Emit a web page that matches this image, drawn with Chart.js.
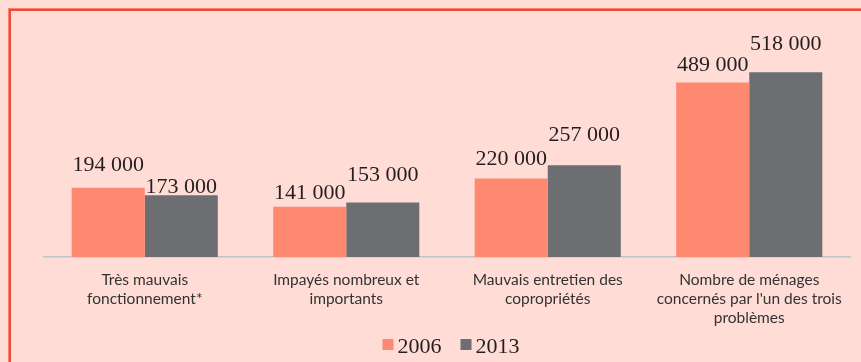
<!DOCTYPE html>
<html>
<head>
<meta charset="utf-8">
<script src="https://cdn.jsdelivr.net/npm/chart.js@4"></script>
<style>
  html, body { margin: 0; padding: 0; }
  body { width: 861px; height: 362px; background: #ffdcd6; position: relative; overflow: hidden; }
  #frame {
    position: absolute; left: 9px; top: 9px; right: -10px; bottom: -10px;
    border-top: 2px solid #f04a3a; border-left: 2px solid #f04a3a;
    box-shadow: -1px -1px 0 #f9806e;
  }
  #wrap { position: absolute; left: 0; top: 0; width: 861px; height: 362px; }
</style>
</head>
<body>
<div id="frame"></div>
<div id="wrap"><canvas id="chart" width="861" height="362"></canvas></div>
<script>
const categories = [
    ["Très mauvais", "fonctionnement*"],
    ["Impayés nombreux et", "importants"],
    ["Mauvais entretien des", "copropriétés"],
    ["Nombre de ménages", "concernés par l'un des trois", "problèmes"]
];
const years = ["2006", "2013"];
const values2006 = [194000, 141000, 220000, 489000];
const values2013 = [173000, 153000, 257000, 518000];

// space between label baseline and bar top, per bar
const labelGaps = [[17, 8, 14, 12], [2, 21, 24, 22]];

const serif = '"Liberation Serif", serif';

function fmt(v){
    return String(v).replace(/\B(?=(\d{3})+(?!\d))/g, " ");
}

const valueLabels = {
    id: 'valueLabels',
    afterDatasetsDraw(chart){
        const ctx = chart.ctx;
        ctx.save();
        ctx.font = '22px ' + serif;
        ctx.fillStyle = '#231f20';
        ctx.textAlign = 'center';
        ctx.textBaseline = 'alphabetic';
        chart.data.datasets.forEach((ds, di) => {
            chart.getDatasetMeta(di).data.forEach((bar, i) => {
                ctx.fillText(fmt(ds.data[i]), bar.x, bar.y - labelGaps[di][i]);
            });
        });
        ctx.restore();
    }
};

// legend row under the axis labels: small square + year
const bottomLegend = {
    id: 'bottomLegend',
    afterDraw(chart){
        const ctx = chart.ctx;
        const box = 11, gap = 4, spacing = 19;
        const center = 451, boxTop = 339, baseline = 353;
        ctx.save();
        ctx.font = '22px ' + serif;
        ctx.textBaseline = 'alphabetic';
        const sets = chart.data.datasets;
        const widths = sets.map(ds => ctx.measureText(ds.label).width);
        let total = 0;
        widths.forEach((w, i) => { total += box + gap + w + (i ? spacing : 0); });
        let x = center - total / 2;
        sets.forEach((ds, i) => {
            ctx.fillStyle = ds.backgroundColor;
            ctx.fillRect(x, boxTop, box, box);
            ctx.fillStyle = '#231f20';
            ctx.fillText(ds.label, x + box + gap, baseline);
            x += box + gap + widths[i] + spacing;
        });
        ctx.restore();
    }
};

new Chart(document.getElementById('chart').getContext('2d'), {
    type: 'bar',
    data: {
        labels: categories,
        datasets: [
            {label: years[0], data: values2006, backgroundColor: '#ff8870'},
            {label: years[1], data: values2013, backgroundColor: '#6d6e71'}
        ]
    },
    options: {
        responsive: false,
        animation: false,
        devicePixelRatio: 1,
        layout: {padding: {left: 44, right: 11, top: 43, bottom: 28}},
        datasets: {bar: {categoryPercentage: 0.725, barPercentage: 1}},
        scales: {
            y: {display: false, min: 0, max: 600000},
            x: {
                grid: {display: false, tickLength: 8},
                border: {display: true, color: '#bcc4cb', width: 1.5},
                ticks: {
                    color: '#333333',
                    padding: 6,
                    maxRotation: 0,
                    autoSkip: false,
                    font: {family: 'Lato', size: 15.5, lineHeight: 1.226}
                }
            }
        },
        plugins: {
            tooltip: {enabled: false},
            legend: {display: false}
        }
    },
    plugins: [valueLabels, bottomLegend]
});
</script>
</body>
</html>
